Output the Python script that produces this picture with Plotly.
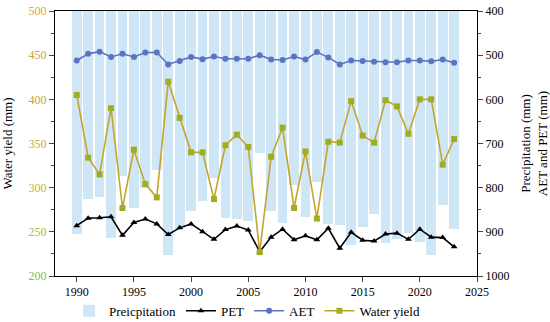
import plotly.graph_objects as go

years = list(range(1990, 2024))
precipitation = [905, 825, 820, 913, 773, 847, 800, 760, 952, 894, 852, 830,
                 777, 869, 870, 875, 722, 853, 881, 795, 866, 788, 883, 885,
                 929, 888, 860, 926, 917, 902, 924, 952, 839, 893]
pet = [886, 869, 868, 866, 908, 879, 871, 882, 906, 891, 882, 900,
       917, 895, 887, 896, 945, 912, 894, 918, 909, 918, 892, 937,
       901, 919, 921, 905, 903, 917, 894, 912, 913, 934]
aet = [512, 497, 492, 504, 497, 504, 494, 494, 521, 513, 504, 509,
       503, 508, 508, 508, 500, 510, 511, 503, 510, 493, 505, 521,
       512, 513, 515, 516, 516, 512, 512, 514, 510, 517]
water_yield = [405, 334, 315, 390, 277, 343, 304, 289, 420, 379, 340, 340,
               287, 348, 360, 346, 227, 335, 368, 277, 341, 265, 352, 351,
               398, 359, 351, 399, 392, 361, 400, 400, 326, 355]

wy_ticks = [200, 250, 300, 350, 400, 450, 500]
wy_tick_colors = ["#7cc24a", "#a6c23c", "#bdb838", "#c2ad34", "#bfa83a", "#cda33e", "#e89f3a"]
right_ticks = [400, 500, 600, 700, 800, 900, 1000]
x_ticks = [1990, 1995, 2000, 2005, 2010, 2015, 2020, 2025]

FONT = "Liberation Serif"
BASE = 400

fig = go.Figure()
fig.add_trace(go.Bar(
    x=years, y=[p - BASE for p in precipitation], base=BASE,
    name="Preicpitation", marker=dict(color="#cfe6f7", line=dict(width=0)),
    width=0.85, yaxis="y"))
fig.add_trace(go.Scatter(
    x=years, y=pet, name="PET", mode="lines+markers",
    line=dict(color="black", width=1.6),
    marker=dict(symbol="triangle-up", size=6, color="black"), yaxis="y"))
fig.add_trace(go.Scatter(
    x=years, y=aet, name="AET", mode="lines+markers",
    line=dict(color="#5a74c2", width=1.6),
    marker=dict(symbol="circle", size=6, color="#5a74c2"), yaxis="y"))
fig.add_trace(go.Scatter(
    x=years, y=water_yield, name="Water yield", mode="lines+markers",
    line=dict(color="#c4a52c", width=1.6),
    marker=dict(symbol="square", size=6, color="#9fae1e"), yaxis="y2"))

fig.update_layout(
    width=550, height=322,
    margin=dict(l=55, r=73, t=11, b=46, autoexpand=False),
    paper_bgcolor="white", plot_bgcolor="white",
    font=dict(family=FONT, size=12, color="black"),
    bargap=0,
    showlegend=True,
    legend=dict(orientation="h", x=0.455, xanchor="center",
                yref="container", y=0.035, yanchor="middle",
                font=dict(family=FONT, size=13), tracegroupgap=0,
                traceorder="normal", bgcolor="rgba(0,0,0,0)"),
    xaxis=dict(range=[1988.1, 2025], tickvals=x_ticks, ticks="outside", ticklen=5,
               showline=True, linecolor="black", linewidth=1, mirror=True,
               showgrid=False, zeroline=False, automargin=False,
               tickfont=dict(family=FONT, size=12)),
    yaxis=dict(range=[1000, 400], side="right", tickvals=right_ticks,
               ticks="outside", ticklen=5, showline=True, linecolor="black",
               linewidth=1, showgrid=False, zeroline=False, automargin=False,
               minor=dict(ticks="outside", ticklen=3, dtick=50, tick0=400, showgrid=False),
               tickfont=dict(family=FONT, size=12),
               title=dict(text="Precipitation (mm)<br>AET and PET (mm)",
                          font=dict(family=FONT, size=13))),
    yaxis2=dict(range=[200, 500], side="left", overlaying="y",
                tickvals=wy_ticks,
                ticktext=[f'<span style="color:{c}">{v}</span>' for v, c in zip(wy_ticks, wy_tick_colors)],
                ticks="outside", ticklen=5, showline=True, linecolor="black",
                linewidth=1, showgrid=False, zeroline=False, automargin=False,
                minor=dict(ticks="outside", ticklen=3, dtick=25, tick0=200, showgrid=False),
                tickfont=dict(family=FONT, size=12),
                title=dict(text="Water yield (mm)", font=dict(family=FONT, size=13))),
)

fig.write_html("out.html", config={"displayModeBar": False},
               post_script="document.body.style.margin='0';document.body.style.padding='0';")
